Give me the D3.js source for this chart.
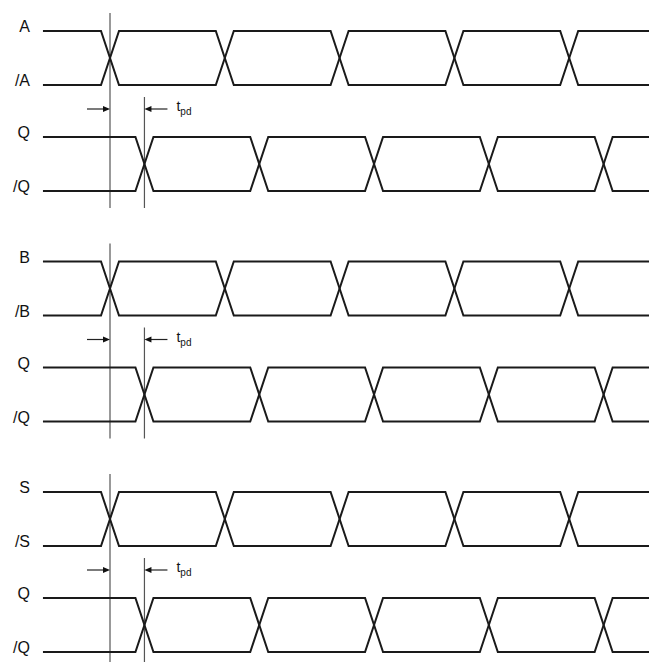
<!DOCTYPE html>
<html>
<head>
<meta charset="utf-8">
<script src="https://cdn.jsdelivr.net/npm/d3@7"></script>
<style>
  body { margin: 0; background: #fff; }
  svg { display: block; }
</style>
</head>
<body>
<svg id="chart"></svg>
<script>
// signal names, one group per input pair
const groups = ["A", "B", "S"];
const inputNames = [["A", "/A"], ["B", "/B"], ["S", "/S"]];
const outputNames = ["Q", "/Q"];

// edge times (crossing points), in units of one period
const inputEdges = [1.0, 2.0, 3.0, 4.0, 5.0];
const outputEdges = [1.3, 2.3, 3.3, 4.3, 5.3];
const tStart = 0.416;
const tEnd = 5.7;

const width = 649;
const height = 662;
const halfEdge = 9;   // half width of a transition, px
const swing = 54;     // distance between the two rails of a pair

const svg = d3.select("#chart")
  .attr("width", width)
  .attr("height", height);

const xScale = d3.scaleLinear()
  .domain([0, 1])
  .range([-4.8, 110]);

// top rail of each group
const groupY = d3.scaleLinear()
  .domain([0, 2])
  .range([31, 492]);

// offset of each rail inside a group
const rowOffset = d3.scaleOrdinal()
  .domain(["in", "inBar", "out", "outBar"])
  .range([0, 54, 106, 160]);

const line = d3.line();

function pairPaths(edges, top) {
  // returns two polylines, one starting high, one starting low
  const paths = [[], []];
  [0, 1].forEach(k => {
    let level = k;
    const pts = paths[k];
    pts.push([xScale(tStart), top + level * swing]);
    edges.forEach(e => {
      const c = xScale(e);
      pts.push([c - halfEdge, top + level * swing]);
      level = 1 - level;
      pts.push([c + halfEdge, top + level * swing]);
    });
    pts.push([xScale(tEnd), top + level * swing]);
  });
  return paths;
}

groups.forEach((g, i) => {
  const base = groupY(i);
  const yIn = base + rowOffset("in");
  const yOut = base + rowOffset("out");
  const yOutBar = base + rowOffset("outBar");
  const gEl = svg.append("g");

  // reference lines at the first input and output edges
  const arrowY = base + rowOffset("inBar") + 24;
  gEl.append("line")
    .attr("x1", xScale(inputEdges[0])).attr("x2", xScale(inputEdges[0]))
    .attr("y1", yIn - 18).attr("y2", yOutBar + 17)
    .attr("stroke", "#555").attr("stroke-width", 1.2);
  gEl.append("line")
    .attr("x1", xScale(outputEdges[0])).attr("x2", xScale(outputEdges[0]))
    .attr("y1", arrowY - 12).attr("y2", yOutBar + 17)
    .attr("stroke", "#555").attr("stroke-width", 1.2);

  // signal pairs
  [[inputEdges, yIn], [outputEdges, yOut]].forEach(([edges, top]) => {
    pairPaths(edges, top).forEach(pts => {
      gEl.append("path")
        .attr("d", line(pts))
        .attr("fill", "none")
        .attr("stroke", "#1a1a1a")
        .attr("stroke-width", 2)
        .attr("stroke-linejoin", "miter");
    });
  });

  // labels
  const labels = [
    [inputNames[i][0], yIn],
    [inputNames[i][1], base + rowOffset("inBar")],
    [outputNames[0], yOut],
    [outputNames[1], yOutBar]
  ];
  labels.forEach(([t, y]) => {
    gEl.append("text")
      .attr("x", 30)
      .attr("y", y + 1)
      .attr("font-family", "Liberation Sans, Arial, sans-serif")
      .attr("font-size", 16)
      .attr("text-anchor", "end")
      .attr("fill", "#111")
      .text(t);
  });

  // tpd arrows
  const xa = xScale(inputEdges[0]);
  const xb = xScale(outputEdges[0]);
  gEl.append("line")
    .attr("x1", xa - 23).attr("x2", xa - 6)
    .attr("y1", arrowY).attr("y2", arrowY)
    .attr("stroke", "#222").attr("stroke-width", 1.2);
  gEl.append("path")
    .attr("d", `M${xa},${arrowY}L${xa - 7},${arrowY - 3}L${xa - 7},${arrowY + 3}Z`)
    .attr("fill", "#111");
  gEl.append("line")
    .attr("x1", xb + 23).attr("x2", xb + 6)
    .attr("y1", arrowY).attr("y2", arrowY)
    .attr("stroke", "#222").attr("stroke-width", 1.2);
  gEl.append("path")
    .attr("d", `M${xb},${arrowY}L${xb + 7},${arrowY - 3}L${xb + 7},${arrowY + 3}Z`)
    .attr("fill", "#111");

  const tt = gEl.append("text")
    .attr("x", xb + 32)
    .attr("y", arrowY + 2)
    .attr("font-family", "Liberation Sans, Arial, sans-serif")
    .attr("font-size", 14)
    .attr("fill", "#111");
  tt.append("tspan").text("t");
  tt.append("tspan")
    .attr("dy", 4)
    .attr("font-size", 10)
    .text("pd");
});
</script>
</body>
</html>
